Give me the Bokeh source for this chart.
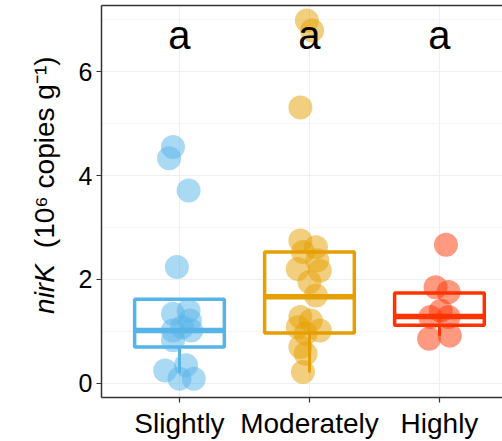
import math
from bokeh.plotting import figure
from bokeh.layouts import row
from bokeh.models import (Range1d, FixedTicker, LinearAxis, ColumnDataSource)
from bokeh.core.properties import value
from bokeh.embed import file_html
from bokeh.resources import INLINE

# ---- data ----
categories = ["Slightly", "Moderately", "Highly"]
colors = ["#56B4E9", "#E69F00", "#FF3300"]

slightly_vals = [4.55, 4.33, 3.71, 2.24, 1.40, 1.34, 1.21, 1.08, 1.02, 1.02, 0.83, 0.35, 0.25, 0.09, 0.09]
slightly_jit = [-0.05, -0.08, 0.07, -0.02, 0.07, -0.05, 0.08, 0.02, -0.05, 0.09, -0.05, 0.05, -0.11, 0.0, 0.11]

moderately_vals = [6.98, 6.79, 5.31, 2.75, 2.62, 2.53, 2.37, 2.20, 2.17, 1.95, 1.69, 1.28, 1.21, 1.08, 1.02, 0.96, 0.70, 0.57, 0.22]
moderately_jit = [-0.02, 0.02, -0.07, -0.07, 0.05, -0.05, 0.06, -0.09, 0.08, 0.0, 0.05, -0.07, 0.01, -0.09, 0.08, -0.03, -0.07, -0.03, -0.05]

highly_vals = [2.67, 1.85, 1.76, 1.40, 1.28, 1.28, 0.92, 0.86]
highly_jit = [0.05, -0.03, 0.07, 0.01, -0.07, 0.07, 0.08, -0.08]

whisker_low = [0.20, 0.21, 0.92]
q1 = [0.70, 0.97, 1.12]
median = [1.02, 1.67, 1.29]
q3 = [1.62, 2.53, 1.74]

letters = ["a", "a", "a"]
letter_y = 6.71

y_ticks = [0, 2, 4, 6]
y_minor = [1, 3, 5, 7]

ylabel_italic = "nirK"
ylabel_rest = "(10\u2076 copies g\u207B\u00B9)"

# ---- y-label panel (a narrow figure holding the rotated, mixed-style axis title) ----
LW = 70
lp = figure(width=LW, height=441, output_backend="svg", toolbar_location=None,
            x_range=Range1d(0, LW), y_range=Range1d(0, 441),
            min_border=0, min_border_left=0, min_border_right=0, min_border_top=0, min_border_bottom=0)
lp.axis.visible = False
lp.grid.visible = False
lp.outline_line_color = None
lp.border_fill_color = "white"
lp.background_fill_color = "white"
lp.text(x=[44], y=[94], text=[ylabel_italic], angle=math.pi / 2, text_font=value("Liberation Sans"),
        text_font_style="italic", text_font_size="28px", text_align="left",
        text_baseline="alphabetic", text_color="black")
lp.text(x=[44], y=[168], text=[ylabel_rest], angle=math.pi / 2, text_font=value("Liberation Sans"),
        text_font_size="28px", text_align="left", text_baseline="alphabetic", text_color="black")

# ---- main figure ----
xs = [1, 2, 3]
p = figure(width=502 - LW, height=441, output_backend="svg", toolbar_location=None,
           x_range=Range1d(0.4, 3.485), y_range=Range1d(-0.27, 7.27),
           min_border_left=101 - LW, min_border_right=0, min_border_top=5, min_border_bottom=44)
p.outline_line_color = None
p.background_fill_color = "white"
p.border_fill_color = "white"

p.xaxis.ticker = FixedTicker(ticks=xs)
p.xaxis.major_label_overrides = {1: categories[0], 2: categories[1], 3: categories[2]}
p.yaxis.ticker = FixedTicker(ticks=y_ticks, minor_ticks=y_minor)

for ax in (p.xaxis[0], p.yaxis[0]):
    ax.axis_line_color = "#333333"
    ax.axis_line_width = 1.5
    ax.major_tick_line_color = "#333333"
    ax.major_tick_line_width = 1.2
    ax.major_tick_out = 5
    ax.major_tick_in = 0
    ax.minor_tick_line_color = None
    ax.major_label_text_color = "black"
    ax.major_label_text_font = "Liberation Sans"

p.xaxis.major_label_text_font_size = "28px"
p.xaxis.major_label_standoff = 5
p.yaxis.major_label_text_font_size = "25px"
p.yaxis.major_label_standoff = 4

top_axis = LinearAxis(ticker=FixedTicker(ticks=[]), axis_line_color="#333333", axis_line_width=1.5,
                      major_tick_line_color=None, minor_tick_line_color=None,
                      major_label_text_font_size="0px", major_tick_out=0, major_label_standoff=0)
p.add_layout(top_axis, "above")

p.xgrid.ticker = FixedTicker(ticks=xs)
p.xgrid.grid_line_color = "#EFEFEF"
p.ygrid.grid_line_color = "#EFEFEF"
p.ygrid.minor_grid_line_color = "#F5F5F5"

# ---- points ----
groups = [(slightly_vals, slightly_jit), (moderately_vals, moderately_jit), (highly_vals, highly_jit)]
for i, (vals, jit) in enumerate(groups):
    src = ColumnDataSource(dict(x=[xs[i] + j for j in jit], y=vals))
    p.scatter("x", "y", source=src, size=24, fill_color=colors[i], fill_alpha=0.5,
              line_color=None)

# ---- boxes ----
half = 0.345
for i in range(3):
    p.segment(x0=[xs[i]], y0=[q1[i]], x1=[xs[i]], y1=[whisker_low[i]],
              line_color=colors[i], line_width=3)
    p.quad(left=[xs[i] - half], right=[xs[i] + half], bottom=[q1[i]], top=[q3[i]],
           fill_color=None, line_color=colors[i], line_width=3.5)
    p.segment(x0=[xs[i] - half], y0=[median[i]], x1=[xs[i] + half], y1=[median[i]],
              line_color=colors[i], line_width=5.5)

# ---- significance letters ----
p.text(x=xs, y=[letter_y] * 3, text=letters, text_font=value("Liberation Sans"),
       text_font_size="40px", text_align="center", text_baseline="alphabetic", text_color="black")

layout = row(lp, p, spacing=0)
open("out.html", "w").write(file_html(layout, INLINE))
